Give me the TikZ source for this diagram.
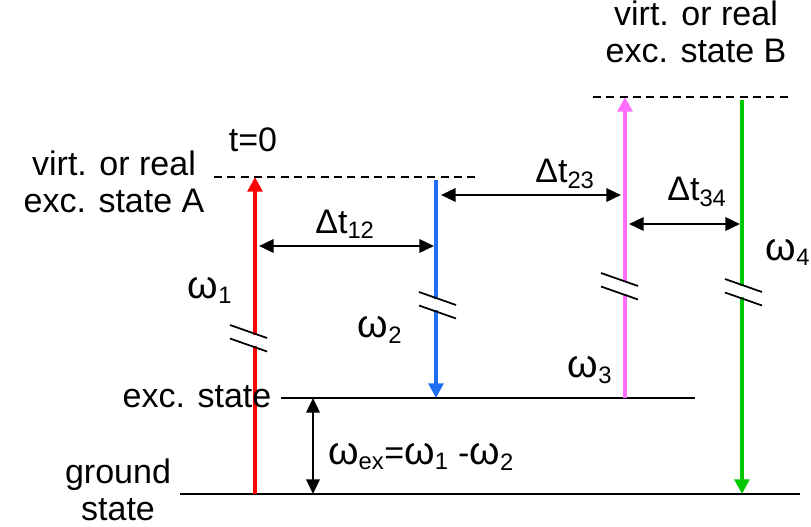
\documentclass[tikz,border=0pt]{standalone}
\usepackage{fontspec}
\setmainfont{Liberation Sans}
\usetikzlibrary{positioning, arrows.meta, calc}
\definecolor{beamred}{RGB}{255,0,0}
\definecolor{beamblue}{RGB}{30,110,240}
\definecolor{beammag}{RGB}{255,110,255}
\definecolor{beamgreen}{RGB}{0,200,0}
\tikzset{
  LV/.style={line width=1.5pt,black},
  VL/.style={line width=1.2pt,black,dash pattern=on 6pt off 4pt},
  BM/.style={line width=3pt,-{Triangle[length=11pt,width=11pt]}},
  DT/.style={line width=1.9pt,{Triangle[length=11pt,width=10pt]}-{Triangle[length=11pt,width=10pt]}},
  BR/.style={line width=1.3pt,black},
  TX/.style={font=\fontsize{25.5}{28}\selectfont,inner sep=0pt,align=center},
}
\newcommand{\sbs}[1]{\textsubscript{#1}}
\newcommand{\om}{\scalebox{1.15}{ω}}

\begin{document}
\begin{tikzpicture}[x=0.75pt,y=-0.75pt]
\useasboundingbox (0,0) rectangle (811,526);

% Energy levels
\coordinate (gl) at (180,494); \coordinate (gr) at (800,494);
\coordinate (el) at (281,398); \coordinate (er) at (695,398);
\coordinate (al) at (214,177); \coordinate (ar) at (478,177);
\coordinate (bl) at (593,97);  \coordinate (br) at (790,97);
\draw[LV](gl)--(gr);
\draw[LV](el)--(er);
\draw[VL](al)--(ar);
\draw[VL](bl)--(br);

% Beams
\coordinate (r0) at (255,494); \coordinate (r1) at (255,177);
\coordinate (b0) at (436,180); \coordinate (b1) at (436,398);
\coordinate (m0) at (625,398); \coordinate (m1) at (625,97);
\coordinate (g0) at (742,100); \coordinate (g1) at (742,494);
\draw[BM,beamred](r0)--(r1);
\draw[BM,beamblue](b0)--(b1);
\draw[BM,beammag](m0)--(m1);
\draw[BM,beamgreen](g0)--(g1);

% Break marks (beam x / slash start x / slash start y)
\foreach \bx/\sx/\sy in {255/230/325, 436/419/292, 625/601/273, 742/725/279}{
  \draw[white,line width=5pt] (\bx,{\sy+13*(\bx-\sx)/37+1})--++(0,11.5);
  \draw[BR] (\sx,\sy)--++(37,13);
  \draw[BR] (\sx,\sy+13.5)--++(37,13);
}

% Delays
\coordinate (d12l) at (259,246); \coordinate (d12r) at (434,246);
\coordinate (d23l) at (441,195); \coordinate (d23r) at (621,195);
\coordinate (d34l) at (629,224); \coordinate (d34r) at (740,224);
\coordinate (xt) at (313,398);  \coordinate (xb) at (313,494);
\draw[DT](d12l)--(d12r);
\draw[DT](d23l)--(d23r);
\draw[DT](d34l)--(d34r);
\draw[DT](xt)--(xb);

% Labels
\node[TX](t0)   at (253,140){t=0};
\node[TX](stA)  at (114,182){virt. or real\\exc. state A};
\node[TX](stB)  at (696,32){virt. or real\\exc. state B};
\node[TX](exc)  at (197,397){exc. state};
\node[TX](gnd)  at (118,490){ground\\state};
\node[TX](w1)   at (210,290){\om\sbs{1}};
\node[TX](w2)   at (380,330){\om\sbs{2}};
\node[TX](w3)   at (590,370){\om\sbs{3}};
\node[TX](w4)   at (788,252){\om\sbs{4}};
\node[TX](t12)  at (345,224){Δt\sbs{12}};
\node[TX](t23)  at (565,174){Δt\sbs{23}};
\node[TX](t34)  at (697,192){Δt\sbs{34}};
\node[TX](wex)  at (421,457){\om\sbs{ex}=\om\sbs{1} -\om\sbs{2}};

\end{tikzpicture}
\end{document}
